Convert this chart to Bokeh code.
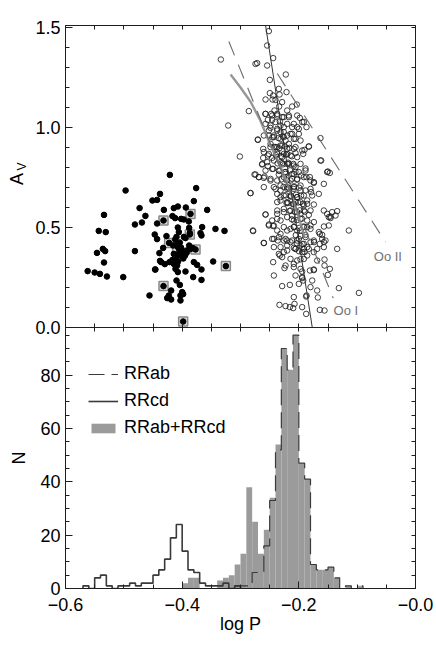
import numpy as np
from bokeh.plotting import figure
from bokeh.layouts import row
from bokeh.models import (Range1d, FixedTicker, Label, Legend, LegendItem,
                          LinearAxis, CustomJSTickFormatter)
from bokeh.embed import file_html
from bokeh.resources import INLINE

FONT = "Liberation Sans"
INK = "#1e1e1e"

# ---------------- data: upper panel (log P, A_V) ----------------
rrc_points = [
    (-0.497, 0.685), (-0.438, 0.668), (-0.451, 0.635), (-0.443, 0.638), (-0.473, 0.597),
    (-0.534, 0.563), (-0.463, 0.558), (-0.481, 0.515), (-0.469, 0.525), (-0.443, 0.520),
    (-0.543, 0.483), (-0.531, 0.477), (-0.447, 0.465), (-0.443, 0.442), (-0.536, 0.393),
    (-0.532, 0.382), (-0.546, 0.373), (-0.481, 0.382), (-0.439, 0.372), (-0.534, 0.325),
    (-0.438, 0.333), (-0.446, 0.290), (-0.562, 0.282), (-0.550, 0.275), (-0.541, 0.268),
    (-0.529, 0.255), (-0.501, 0.252), (-0.456, 0.160),
    (-0.4211, 0.763), (-0.3760, 0.697), (-0.3800, 0.632), (-0.4314, 0.588), (-0.4143, 0.597),
    (-0.4074, 0.605), (-0.3937, 0.600), (-0.3571, 0.588), (-0.3857, 0.568), (-0.4166, 0.557),
    (-0.4120, 0.547), (-0.4017, 0.543), (-0.3971, 0.540), (-0.3886, 0.530), (-0.4320, 0.535),
    (-0.4074, 0.500), (-0.3880, 0.498), (-0.3657, 0.502), (-0.3429, 0.493), (-0.3274, 0.483),
    (-0.4057, 0.477), (-0.3869, 0.472), (-0.3686, 0.472), (-0.3669, 0.460), (-0.4269, 0.457),
    (-0.3869, 0.465), (-0.3971, 0.453), (-0.4097, 0.453), (-0.4120, 0.440), (-0.4223, 0.423),
    (-0.3943, 0.447), (-0.4154, 0.410), (-0.4086, 0.415), (-0.4326, 0.398), (-0.4074, 0.402),
    (-0.4029, 0.393), (-0.3857, 0.393), (-0.3771, 0.390), (-0.3817, 0.397), (-0.3926, 0.385),
    (-0.3983, 0.377), (-0.4051, 0.373), (-0.4143, 0.368), (-0.4057, 0.360), (-0.4120, 0.347),
    (-0.4006, 0.357), (-0.4166, 0.338), (-0.4217, 0.327), (-0.4360, 0.327), (-0.4297, 0.317),
    (-0.4143, 0.318), (-0.4086, 0.310), (-0.3800, 0.327), (-0.3743, 0.313), (-0.3469, 0.330),
    (-0.3251, 0.307), (-0.4114, 0.293), (-0.4074, 0.277), (-0.3943, 0.280), (-0.3669, 0.290),
    (-0.4463, 0.290), (-0.3811, 0.252), (-0.3669, 0.238), (-0.4097, 0.235), (-0.4040, 0.213),
    (-0.4320, 0.207), (-0.4000, 0.177), (-0.4189, 0.185), (-0.3983, 0.167), (-0.4229, 0.160),
    (-0.4029, 0.160), (-0.4257, 0.147), (-0.4189, 0.140), (-0.4029, 0.135), (-0.3983, 0.030),
    (-0.4050, 0.390), (-0.4000, 0.370), (-0.3950, 0.360), (-0.4100, 0.355), (-0.4020, 0.400),
    (-0.3980, 0.345), (-0.3920, 0.375), (-0.4070, 0.330), (-0.3880, 0.410), (-0.4040, 0.425),
]
flagged_points = [
    (-0.3857, 0.568), (-0.4320, 0.535), (-0.3869, 0.465), (-0.4223, 0.423), (-0.3771, 0.390),
    (-0.4086, 0.377), (-0.3251, 0.307), (-0.4320, 0.207), (-0.3983, 0.030),
]
rrab_upper = [
    (-0.2514, 1.482), (-0.2543, 1.410), (-0.2440, 1.347), (-0.3337, 1.340), (-0.2743, 1.318),
    (-0.2714, 1.322), (-0.2543, 1.310), (-0.2223, 1.265), (-0.2497, 1.238), (-0.2343, 1.193),
    (-0.2211, 1.177), (-0.2497, 1.172), (-0.2440, 1.160), (-0.2331, 1.165), (-0.2571, 1.140),
    (-0.2451, 1.140), (-0.2400, 1.138), (-0.2286, 1.127), (-0.2337, 1.105), (-0.2200, 1.085),
    (-0.2114, 1.105), (-0.2035, 1.115), (-0.2857, 1.082), (-0.2571, 1.068), (-0.2417, 1.085),
    (-0.2474, 1.068), (-0.2371, 1.060), (-0.2286, 1.052), (-0.2171, 1.052), (-0.1983, 1.048),
    (-0.1914, 1.028), (-0.1869, 1.002), (-0.3211, 1.010), (-0.2531, 1.038), (-0.2457, 1.038),
    (-0.2326, 1.030), (-0.2486, 0.998), (-0.2371, 0.993), (-0.2257, 1.002), (-0.2086, 1.018),
    (-0.2000, 0.993), (-0.2703, 0.940), (-0.2514, 0.960), (-0.2429, 0.960), (-0.2314, 0.977),
    (-0.2257, 0.952), (-0.2200, 0.960), (-0.2114, 0.968), (-0.2057, 0.943), (-0.1629, 0.947),
    (-0.2611, 0.893), (-0.2486, 0.902), (-0.2371, 0.902), (-0.2314, 0.910), (-0.2200, 0.893),
    (-0.2086, 0.893), (-0.1829, 0.905), (-0.3011, 0.855), (-0.2611, 0.848), (-0.2531, 0.860),
    (-0.2457, 0.848), (-0.2371, 0.868), (-0.2286, 0.852), (-0.2200, 0.868), (-0.2057, 0.872),
    (-0.1903, 0.888), (-0.1629, 0.835), (-0.2629, 0.815), (-0.2531, 0.807), (-0.2440, 0.793),
    (-0.2286, 0.822), (-0.2171, 0.818), (-0.2057, 0.802), (-0.1886, 0.795), (-0.1503, 0.780),
    (-0.1469, 0.773), (-0.2743, 0.765), (-0.2686, 0.752), (-0.2589, 0.755), (-0.2486, 0.735),
    (-0.2343, 0.765), (-0.2229, 0.768), (-0.2086, 0.768), (-0.1960, 0.760), (-0.1869, 0.752),
    (-0.1811, 0.752), (-0.1743, 0.723), (-0.1571, 0.718), (-0.2829, 0.672), (-0.2600, 0.702),
    (-0.2400, 0.693), (-0.2314, 0.685), (-0.2200, 0.702), (-0.2086, 0.693), (-0.1971, 0.710),
    (-0.1886, 0.685), (-0.1789, 0.677), (-0.2314, 0.652), (-0.2143, 0.660), (-0.2029, 0.652),
    (-0.1857, 0.635), (-0.1743, 0.615), (-0.2371, 0.627), (-0.2211, 0.622), (-0.2057, 0.627),
    (-0.1914, 0.610), (-0.2571, 0.565), (-0.2371, 0.568), (-0.2257, 0.577), (-0.2114, 0.560),
    (-0.1971, 0.568), (-0.1829, 0.563), (-0.1514, 0.568), (-0.1429, 0.577), (-0.1343, 0.582),
    (-0.1371, 0.560), (-0.1486, 0.552),
]
rrab_core = [
    (-0.2571, 1.068), (-0.2457, 1.060), (-0.2371, 1.068), (-0.2257, 1.052), (-0.2171, 1.060),
    (-0.2028, 1.060), (-0.1942, 1.027), (-0.2571, 1.018), (-0.2485, 1.010), (-0.2400, 1.027),
    (-0.2314, 1.010), (-0.2200, 1.018), (-0.2114, 1.002), (-0.2028, 1.002), (-0.2514, 0.985),
    (-0.2371, 0.985), (-0.2257, 0.977), (-0.2142, 0.968), (-0.2000, 0.968), (-0.2702, 0.938),
    (-0.2600, 0.960), (-0.2428, 0.952), (-0.2314, 0.943), (-0.2228, 0.935), (-0.2085, 0.943),
    (-0.1971, 0.935), (-0.1828, 0.905), (-0.2485, 0.918), (-0.2400, 0.902), (-0.2285, 0.910),
    (-0.2171, 0.918), (-0.2057, 0.902), (-0.1942, 0.885), (-0.2600, 0.877), (-0.2514, 0.868),
    (-0.2371, 0.877), (-0.2257, 0.868), (-0.2142, 0.860), (-0.2028, 0.852), (-0.1925, 0.868),
    (-0.1617, 0.835), (-0.2628, 0.818), (-0.2542, 0.827), (-0.2428, 0.835), (-0.2314, 0.827),
    (-0.2200, 0.818), (-0.2085, 0.810), (-0.1971, 0.818), (-0.2571, 0.785), (-0.2457, 0.793),
    (-0.2342, 0.785), (-0.2228, 0.777), (-0.2114, 0.768), (-0.2000, 0.777), (-0.1885, 0.785),
    (-0.1514, 0.777), (-0.2760, 0.765), (-0.2685, 0.752), (-0.2600, 0.748), (-0.2485, 0.743),
    (-0.2371, 0.735), (-0.2257, 0.752), (-0.2142, 0.735), (-0.2028, 0.743), (-0.1914, 0.752),
    (-0.1800, 0.735), (-0.1742, 0.727), (-0.2428, 0.702), (-0.2314, 0.710), (-0.2200, 0.693),
    (-0.2085, 0.702), (-0.1971, 0.685), (-0.1800, 0.693), (-0.2828, 0.672), (-0.2371, 0.668),
    (-0.2257, 0.660), (-0.2142, 0.655), (-0.2028, 0.652), (-0.1914, 0.660), (-0.1771, 0.660),
    (-0.1657, 0.668), (-0.2314, 0.635), (-0.2200, 0.627), (-0.2085, 0.618), (-0.1971, 0.627),
    (-0.1857, 0.618), (-0.2371, 0.585), (-0.2257, 0.593), (-0.2142, 0.585), (-0.2028, 0.577),
    (-0.1914, 0.585), (-0.1800, 0.585), (-0.1457, 0.555), (-0.1571, 0.585), (-0.2571, 0.565),
    (-0.2514, 0.510), (-0.2428, 0.510), (-0.2314, 0.535), (-0.2200, 0.552), (-0.2085, 0.535),
    (-0.1971, 0.543), (-0.1857, 0.535), (-0.1742, 0.527), (-0.2371, 0.485), (-0.2257, 0.502),
    (-0.2142, 0.493), (-0.2028, 0.485), (-0.1914, 0.502), (-0.1800, 0.493), (-0.1657, 0.477),
    (-0.2788, 0.485), (-0.2457, 0.443), (-0.2342, 0.452), (-0.2228, 0.443), (-0.2114, 0.435),
    (-0.2000, 0.443), (-0.1885, 0.452), (-0.1742, 0.435), (-0.1600, 0.443), (-0.2600, 0.422),
    (-0.2428, 0.402), (-0.2200, 0.410), (-0.2085, 0.398), (-0.1971, 0.410), (-0.1857, 0.402),
    (-0.1640, 0.418),
    (-0.2314, 0.468), (-0.2200, 0.485), (-0.2086, 0.502), (-0.1971, 0.485), (-0.1857, 0.502),
    (-0.2257, 0.435), (-0.2143, 0.427), (-0.2029, 0.435), (-0.1914, 0.418), (-0.1800, 0.427),
    (-0.2314, 0.402), (-0.2200, 0.385), (-0.2057, 0.393), (-0.1943, 0.377), (-0.1829, 0.393),
    (-0.2143, 0.343), (-0.2029, 0.335), (-0.1914, 0.343), (-0.2086, 0.302), (-0.1971, 0.293),
    (-0.2057, 0.260), (-0.1943, 0.252), (-0.1743, 0.287), (-0.1771, 0.235), (-0.2000, 0.218),
]
rrab_dense = [
    (-0.2453, 0.951), (-0.2348, 0.947), (-0.2276, 0.956), (-0.2427, 0.903), (-0.2334, 0.896),
    (-0.2238, 0.905), (-0.2161, 0.898), (-0.2396, 0.862), (-0.2307, 0.857), (-0.2219, 0.864),
    (-0.2118, 0.856), (-0.2364, 0.821), (-0.2272, 0.816), (-0.2183, 0.824), (-0.2094, 0.818),
    (-0.2331, 0.783), (-0.2237, 0.777), (-0.2152, 0.786), (-0.2058, 0.779), (-0.2296, 0.741),
    (-0.2208, 0.736), (-0.2117, 0.744), (-0.2031, 0.739), (-0.2262, 0.703), (-0.2173, 0.697),
    (-0.2081, 0.706), (-0.1993, 0.699), (-0.2224, 0.661), (-0.2131, 0.656), (-0.2048, 0.664),
    (-0.1962, 0.659), (-0.2187, 0.622), (-0.2103, 0.617), (-0.2012, 0.625), (-0.1928, 0.618),
    (-0.2158, 0.583), (-0.2069, 0.578), (-0.1983, 0.586), (-0.1897, 0.579), (-0.2121, 0.541),
    (-0.2034, 0.537), (-0.1948, 0.544), (-0.2083, 0.503), (-0.1994, 0.498), (-0.1918, 0.505),
    (-0.2052, 0.462), (-0.1968, 0.458), (-0.1887, 0.463), (-0.2031, 0.421), (-0.1938, 0.417),
    (-0.1997, 0.381), (-0.1902, 0.377), (-0.1972, 0.341),
]
rrab_lower = [
    (-0.1343, 0.393), (-0.1686, 0.335), (-0.1560, 0.340), (-0.1560, 0.310), (-0.1468, 0.293),
    (-0.1503, 0.263), (-0.1743, 0.290), (-0.1810, 0.285), (-0.1943, 0.280), (-0.1943, 0.247),
    (-0.1925, 0.235), (-0.2286, 0.207), (-0.2154, 0.213), (-0.1800, 0.202), (-0.1314, 0.197),
    (-0.0970, 0.173), (-0.1868, 0.160), (-0.1674, 0.150), (-0.2228, 0.107), (-0.2154, 0.102),
    (-0.2097, 0.097), (-0.2074, 0.118), (-0.1943, 0.102), (-0.1874, 0.068), (-0.1640, 0.088),
    (-0.1560, 0.085), (-0.2428, 0.260), (-0.2440, 0.327), (-0.2325, 0.360), (-0.2257, 0.377),
    (-0.2228, 0.310), (-0.2246, 0.297), (-0.2286, 0.352), (-0.2086, 0.318), (-0.2057, 0.393),
    (-0.1914, 0.393), (-0.1857, 0.360), (-0.1743, 0.377), (-0.1686, 0.393), (-0.1571, 0.402),
    (-0.1543, 0.435), (-0.1600, 0.463), (-0.1486, 0.510), (-0.1457, 0.547), (-0.2428, 0.443),
    (-0.2360, 0.435), (-0.2200, 0.435), (-0.2457, 0.535), (-0.2371, 0.543), (-0.1143, 0.485),
    (-0.2783, 0.482), (-0.2600, 0.423), (-0.2514, 0.515), (-0.2440, 0.507), (-0.2343, 0.368),
    (-0.2086, 0.152), (-0.1874, 0.155), (-0.1686, 0.185), (-0.1570, 0.505), (-0.1640, 0.468),
    (-0.1740, 0.427), (-0.1570, 0.427), (-0.1800, 0.510), (-0.2332, 0.113),
]

# reference lines of the upper panel
steep_logp = [-0.257, -0.177]
steep_amp = [1.51, 0.0]
ooI_curve_logp = [-0.317, -0.300, -0.283, -0.266, -0.249, -0.231, -0.214, -0.200, -0.190]
ooI_curve_amp = [1.265, 1.200, 1.130, 1.035, 0.915, 0.800, 0.675, 0.550, 0.450]
ooI_line_logp = [-0.320, -0.141]
ooI_line_amp = [1.430, 0.147]
ooII_line_logp = [-0.237, -0.0514]
ooII_line_amp = [1.270, 0.427]

# ---------------- data: lower panel (histograms, bins of 0.01 in log P) ----------------
bin_edges = np.round(np.arange(-0.60, -0.0799, 0.01), 2)   # 53 edges, 52 bins
rrcd_counts = [0, 0, 0, 1, 0, 4, 5, 1, 0, 1,
               1, 2, 1, 2, 2, 5, 7, 11, 19, 24,
               14, 7, 6, 2, 1, 1, 1, 2, 0, 1,
               0, 0, 0, 0, 0, 0, 0, 0, 0, 0,
               0, 0, 0, 0, 0, 0, 0, 0, 0, 0,
               0, 0]
rrab_counts = [0, 0, 0, 0, 0, 0, 0, 0, 0, 0,
               0, 0, 0, 0, 0, 0, 0, 0, 0, 0,
               0, 0, 0, 0, 0, 0, 0, 0, 0, 1,
               1, 1, 6, 6, 16, 33, 52, 90, 82, 95,
               47, 41, 9, 7, 7, 8, 4, 0, 1, 0,
               1, 0]
total_counts = [0, 0, 0, 0, 0, 0, 0, 0, 0, 0,
                0, 0, 0, 0, 0, 0, 0, 0, 0, 0,
                2, 4, 4, 0, 0, 0, 3, 4, 5, 9,
                13, 38, 25, 13, 22, 34, 54, 90, 82, 95,
                47, 41, 9, 7, 7, 8, 4, 0, 1, 0,
                1, 0]

# ---------------- ticks ----------------
x_ticks = [-0.6, -0.4, -0.2, 0.0]
x_minor = [round(-0.6 + 0.05 * i, 2) for i in range(13)]
x_labels = {-0.6: "\u22120.6", -0.4: "\u22120.4", -0.2: "\u22120.2", 0.0: "\u22120.0"}
av_ticks = [0.0, 0.5, 1.0, 1.5]
av_minor = [round(0.1 * i, 1) for i in range(16)]
n_ticks = [0, 20, 40, 60, 80]
n_minor = list(range(0, 100, 5))

# The two panels share one frame: the lower one runs on the N scale (0 .. N_MID),
# the upper one on its own A_V range placed directly above it.
N_MID = 97.875            # top of the histogram panel, in N
N_PER_AV = 75.0           # both panels scale: 8/3 px per N, 200 px per A_V
AV_TOP = 1.51
N_TOP = N_MID + N_PER_AV * AV_TOP

FIG_H = 648
B_TOP, B_BOTTOM = 25, 60
TITLE_W = 30


def av_to_n(a):
    return N_MID + N_PER_AV * a


def unzip(pts):
    return [p[0] for p in pts], [p[1] for p in pts]


def tick_axis(ticker, **kw):
    ax = LinearAxis(ticker=ticker, axis_line_color=INK, axis_line_width=1,
                    major_tick_line_color=INK, minor_tick_line_color=INK,
                    major_tick_in=7, major_tick_out=0, minor_tick_in=4, minor_tick_out=0,
                    major_label_text_font=FONT, major_label_text_font_size="18px",
                    major_label_text_color="#000000", major_label_standoff=5)
    for k, v in kw.items():
        setattr(ax, k, v)
    return ax


y_range = Range1d(0, N_TOP)
main = figure(width=436 - TITLE_W, height=FIG_H, x_range=Range1d(-0.6, 0.0), y_range=y_range,
              output_backend="svg", toolbar_location=None,
              x_axis_location=None, y_axis_location=None,
              min_border_left=65 - TITLE_W, min_border_right=21,
              min_border_top=B_TOP, min_border_bottom=B_BOTTOM,
              outline_line_color=INK, background_fill_color="white", border_fill_color="white")
main.extra_y_ranges = {"av": Range1d(-N_MID / N_PER_AV, AV_TOP)}
main.grid.grid_line_color = None

left_major = n_ticks + [av_to_n(a) for a in av_ticks]
left_minor = n_minor + [av_to_n(a) for a in av_minor]
left_fmt = CustomJSTickFormatter(args=dict(mid=N_MID, k=N_PER_AV), code="""
    if (tick >= mid - 1e-6) { return ((tick - mid) / k).toFixed(1); }
    return tick.toFixed(0);
""")
main.add_layout(tick_axis(FixedTicker(ticks=left_major, minor_ticks=left_minor),
                          formatter=left_fmt), "left")
main.add_layout(tick_axis(FixedTicker(ticks=[], minor_ticks=left_minor)), "right")
main.add_layout(tick_axis(FixedTicker(ticks=x_ticks, minor_ticks=x_minor),
                          major_label_overrides=x_labels, major_label_standoff=9,
                          axis_label="log P", axis_label_text_font=FONT,
                          axis_label_text_font_size="18px", axis_label_text_font_style="normal",
                          axis_label_text_color="#000000", axis_label_standoff=0), "below")
# top edge and the boundary between the panels (ticks on both sides of it)
main.add_layout(tick_axis(FixedTicker(ticks=[], minor_ticks=x_minor), fixed_location=N_TOP), "above")
main.add_layout(tick_axis(FixedTicker(ticks=[], minor_ticks=x_minor), fixed_location=N_MID,
                          minor_tick_out=4), "above")

# ---- upper panel marks ----
ab_x, ab_y = unzip(rrab_upper + rrab_core + rrab_dense + rrab_lower)
main.scatter(ab_x, ab_y, y_range_name="av", marker="circle", size=5.5, fill_color=None,
             line_color=INK, line_width=0.85)
fx, fy = unzip(flagged_points)
main.scatter(fx, fy, y_range_name="av", marker="square", size=9, fill_color="#dcdcdc",
             line_color="#8a8a8a", line_width=1.5)
cx, cy = unzip(rrc_points)
main.scatter(cx, cy, y_range_name="av", marker="circle", size=5.6,
             fill_color="#000000", line_color="#000000")
main.line(ooI_curve_logp, ooI_curve_amp, y_range_name="av", line_color="#8c8c8c",
          line_width=2.4, line_alpha=0.9)
main.line(ooI_line_logp, ooI_line_amp, y_range_name="av", line_color="#6a6a6a",
          line_width=1.1, line_dash="15 10")
main.line(ooII_line_logp, ooII_line_amp, y_range_name="av", line_color="#6a6a6a",
          line_width=1.1, line_dash="15 10")
main.line(steep_logp, steep_amp, y_range_name="av", line_color="#333333", line_width=1)
main.add_layout(Label(x=-0.1405, y=0.085, y_range_name="av", text="Oo I", text_font=FONT,
                      text_font_size="13px", text_color="#707070",
                      text_baseline="middle", text_align="left"))
main.add_layout(Label(x=-0.0715, y=0.3575, y_range_name="av", text="Oo II", text_font=FONT,
                      text_font_size="13px", text_color="#707070",
                      text_baseline="middle", text_align="left"))

# ---- lower panel marks ----
gray = main.quad(left=bin_edges[:-1], right=bin_edges[1:], bottom=0, top=np.array(total_counts),
                 fill_color="#9b9b9b", line_color=None)


def outline(counts):
    c = np.array(counts)
    nz = np.nonzero(c)[0]
    a, b = nz[0], nz[-1] + 1
    xs = np.concatenate([[bin_edges[a]], bin_edges[a:b + 1]])
    ys = np.concatenate([[0], c[a:b], [0]])
    return xs, ys


cd_x, cd_y = outline(rrcd_counts)
cd = main.step(cd_x, cd_y, mode="after", line_color="#3a3a3a", line_width=1.6)
ab_hx, ab_hy = outline(rrab_counts)
ab = main.step(ab_hx, ab_hy, mode="after", line_color="#3a3a3a", line_width=1.2, line_dash="16 7")

legend = Legend(items=[LegendItem(label="RRab", renderers=[ab]),
                       LegendItem(label="RRcd", renderers=[cd]),
                       LegendItem(label="RRab+RRcd", renderers=[gray])],
                location=(23, 150), glyph_width=30, glyph_height=12, label_height=20,
                spacing=6, padding=0, margin=0, label_standoff=6,
                label_text_font=FONT, label_text_font_size="18px", label_text_color="#000000",
                border_line_alpha=0, background_fill_alpha=0)
main.add_layout(legend)

# ---- y-axis titles of the two panels (A_V with a subscript, and N) ----
# a narrow strip beside the main frame, sharing its vertical scales
titles = figure(width=TITLE_W, height=FIG_H, x_range=Range1d(0, TITLE_W), y_range=y_range,
                output_backend="svg", toolbar_location=None,
                x_axis_location=None, y_axis_location=None,
                min_border_left=0, min_border_right=0,
                min_border_top=B_TOP, min_border_bottom=B_BOTTOM,
                outline_line_color=None, background_fill_color="white", border_fill_color="white")
titles.extra_y_ranges = {"av": main.extra_y_ranges["av"]}
titles.grid.grid_line_color = None
titles.add_layout(Label(x=16.5, y=0.7425, x_units="screen", y_range_name="av", text="A",
                        angle=np.pi / 2, text_font=FONT, text_font_size="18px",
                        text_color="#000000", text_align="center", text_baseline="middle"))
titles.add_layout(Label(x=21.7, y=0.805, x_units="screen", y_range_name="av", text="V",
                        angle=np.pi / 2, text_font=FONT, text_font_size="12px",
                        text_color="#000000", text_align="center", text_baseline="middle"))
titles.add_layout(Label(x=18.5, y=N_MID / 2, x_units="screen", text="N",
                        angle=np.pi / 2, text_font=FONT, text_font_size="18px",
                        text_color="#000000", text_align="center", text_baseline="middle"))

layout = row(titles, main)
with open("out.html", "w") as f:
    f.write(file_html(layout, INLINE))
